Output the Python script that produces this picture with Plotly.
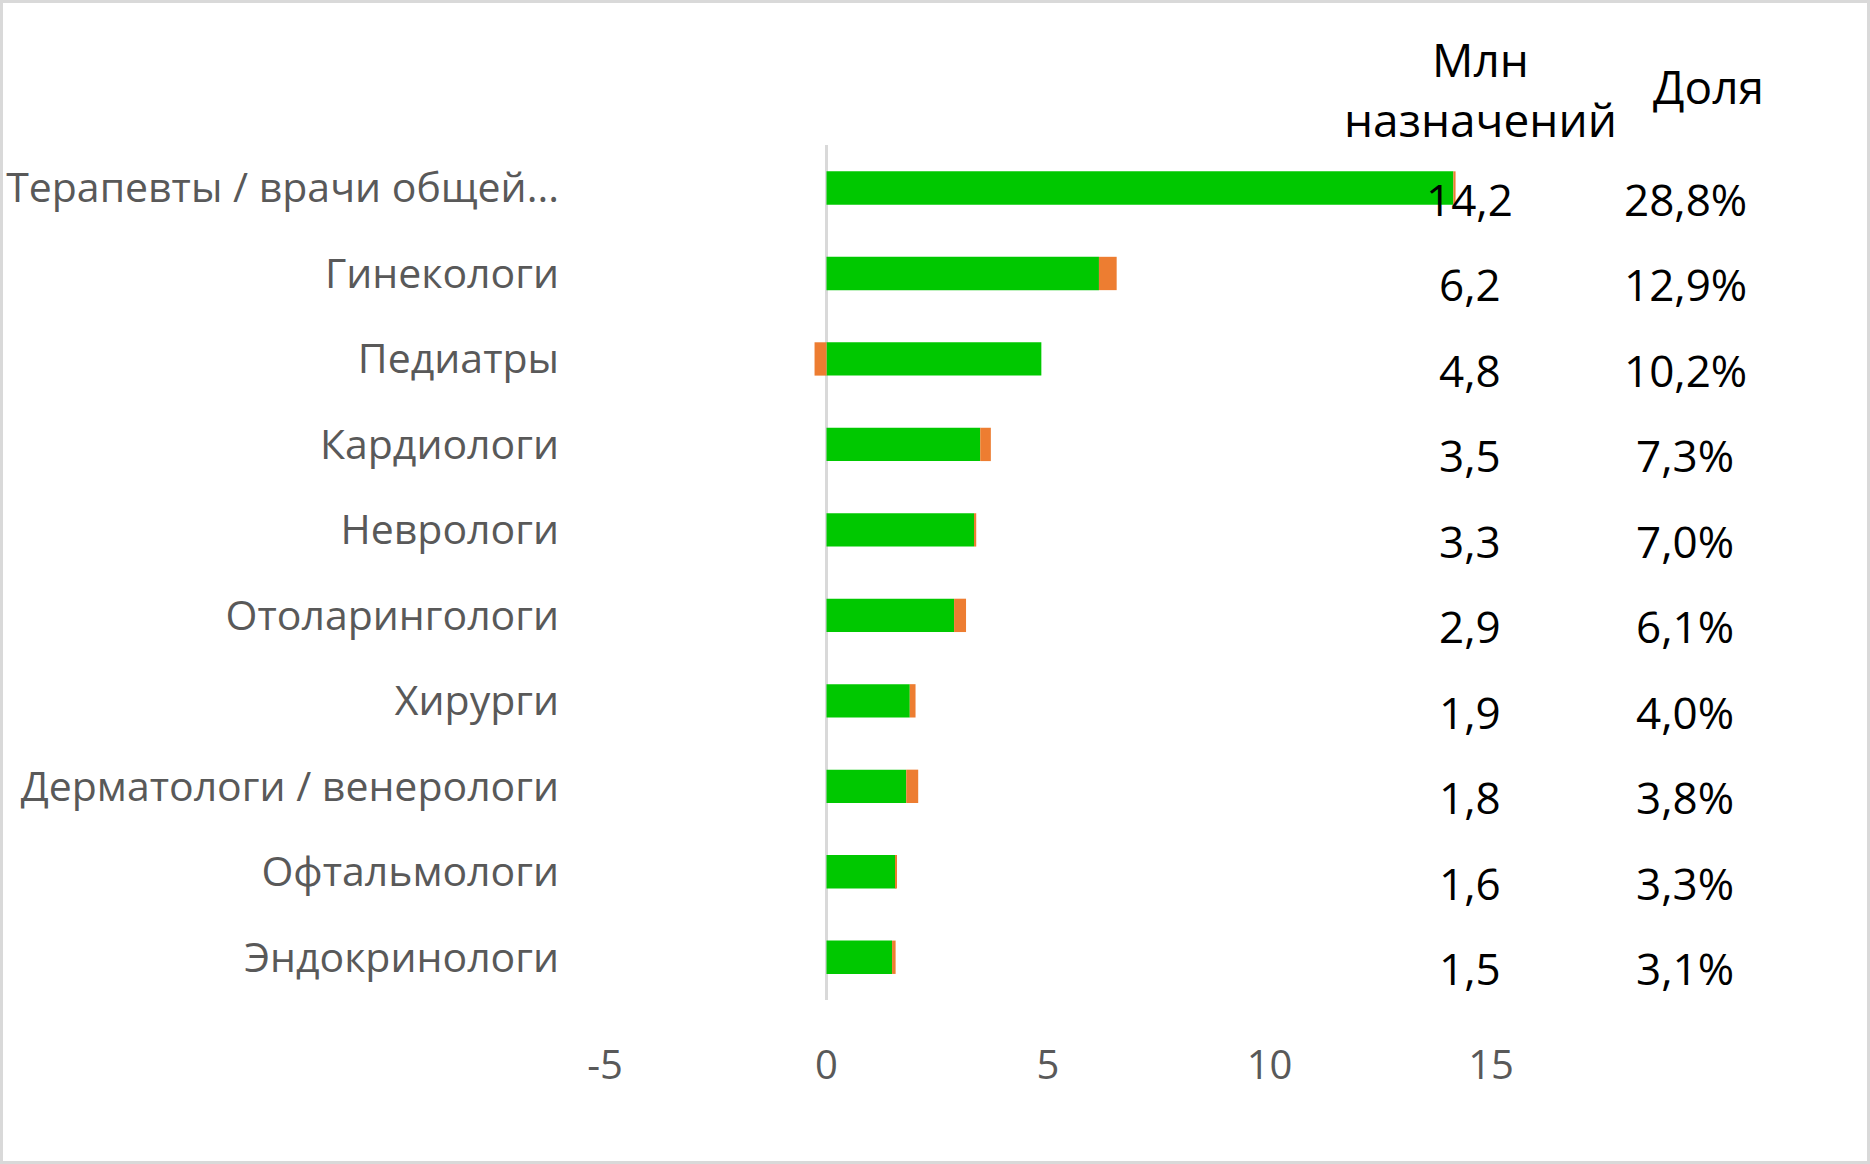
import plotly.graph_objects as go

# specialties, top to bottom
categories = ['Терапевты / врачи общей...', 'Гинекологи', 'Педиатры', 'Кардиологи',
              'Неврологи', 'Отоларингологи', 'Хирурги', 'Дерматологи / венерологи',
              'Офтальмологи', 'Эндокринологи']
green_vals = [14.15, 6.15, 4.85, 3.47, 3.33, 2.88, 1.88, 1.8, 1.56, 1.48]
orange_vals = [0.05, 0.4, -0.27, 0.24, 0.05, 0.27, 0.13, 0.27, 0.02, 0.08]
mln_labels = ['14,2', '6,2', '4,8', '3,5', '3,3', '2,9', '1,9', '1,8', '1,6', '1,5']
share_labels = ['28,8%', '12,9%', '10,2%', '7,3%', '7,0%', '6,1%', '4,0%', '3,8%', '3,3%', '3,1%']
x_ticks = [-5, 0, 5, 10, 15]
x_ticktext = ['-5', '0', '5', '10', '15']

W, H = 1870, 1164
L, R, T, B = 605, 379, 145, 164
pw, ph = W - L - R, H - T - B

fig = go.Figure()
fig.add_trace(go.Bar(y=categories, x=green_vals, orientation='h',
                     marker=dict(color='#00c800', line=dict(width=0))))
fig.add_trace(go.Bar(y=categories, x=orange_vals, orientation='h',
                     marker=dict(color='#ed7d31', line=dict(width=0))))

font_txt = 'Open Sans, Noto Sans, sans-serif'

anns = []
for cat, m, s in zip(categories, mln_labels, share_labels):
    anns.append(dict(x=0.976, xref='paper', y=cat, yref='y', text=m, showarrow=False,
                     xanchor='center', yanchor='middle', yshift=-11,
                     font=dict(size=44, color='black', family=font_txt)))
    anns.append(dict(x=1.219, xref='paper', y=cat, yref='y', text=s, showarrow=False,
                     xanchor='center', yanchor='middle', yshift=-11,
                     font=dict(size=44, color='black', family=font_txt)))
anns.append(dict(x=0.988, xref='paper', y=1.066, yref='paper', text='Млн<br>назначений',
                 showarrow=False, align='center', xanchor='center', yanchor='middle',
                 font=dict(size=46, color='black', family=font_txt)))
anns.append(dict(x=1.246, xref='paper', y=1.069, yref='paper', text='Доля',
                 showarrow=False, xanchor='center', yanchor='middle',
                 font=dict(size=46, color='black', family=font_txt)))

fig.update_layout(
    width=W, height=H,
    margin=dict(l=L, r=R, t=T, b=B, autoexpand=False),
    barmode='relative', bargap=0.61,
    showlegend=False,
    plot_bgcolor='white', paper_bgcolor='white',
    font=dict(family=font_txt, size=40, color='#595959'),
    annotations=anns,
    shapes=[dict(type='rect', xref='paper', yref='paper',
                 x0=-(L - 1.5) / pw, x1=1 + (R - 1.5) / pw,
                 y0=-(B - 1.5) / ph, y1=1 + (T - 1.5) / ph,
                 line=dict(color='#d9d9d9', width=3), layer='below')],
)
fig.update_xaxes(range=[-5, 15], tickvals=x_ticks, ticktext=x_ticktext,
                 showgrid=False, showline=False, zeroline=True,
                 zerolinecolor='#d9d9d9', zerolinewidth=3,
                 ticklabelstandoff=38, tickfont=dict(size=40, color='#595959'))
fig.update_yaxes(autorange='reversed', showgrid=False, showline=False,
                 ticklabelstandoff=45, tickfont=dict(size=41, color='#595959'))

fig.write_html('out.html', config={'displayModeBar': False},
               post_script="document.body.style.margin='0';")
